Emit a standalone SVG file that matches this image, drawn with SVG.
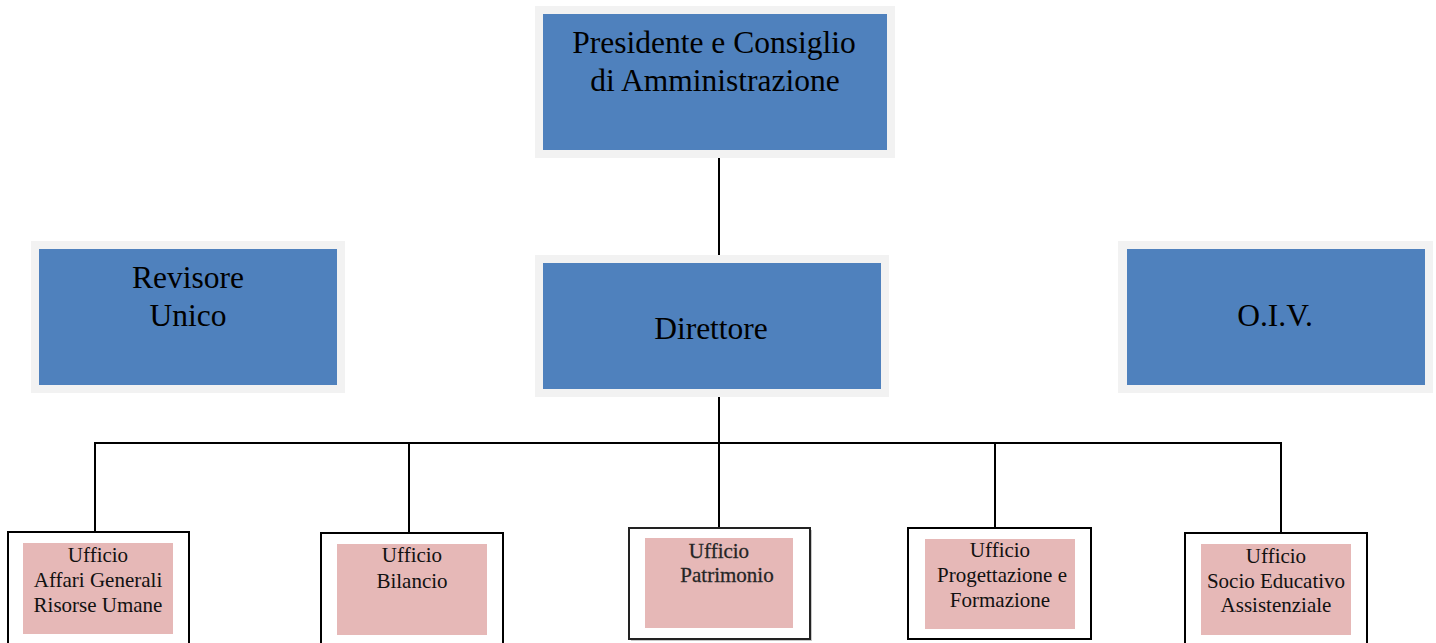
<svg xmlns="http://www.w3.org/2000/svg" width="1436" height="643" viewBox="0 0 1436 643">
<style>
.frame{fill:#f2f2f2}
.blue{fill:#4f81bd}
.pink{fill:#e6b8b7}
.box{fill:#ffffff;stroke:#000;stroke-width:2}
.big{font-family:"Liberation Serif","Times New Roman",serif;font-size:31.5px;fill:#000;text-anchor:middle}
.small{font-family:"Liberation Serif","Times New Roman",serif;font-size:21px;fill:#111;text-anchor:middle}
.conn{stroke:#000;stroke-width:2;fill:none}
</style>
<rect width="1436" height="643" fill="#ffffff"/>
<g id="connectors">
<line class="conn" x1="719" y1="158" x2="719" y2="255"/>
<line class="conn" x1="719" y1="397" x2="719" y2="443"/>
<line class="conn" x1="94" y1="443" x2="1282" y2="443"/>
<line class="conn" x1="95" y1="443" x2="95" y2="532"/>
<line class="conn" x1="409" y1="443" x2="409" y2="533"/>
<line class="conn" x1="719" y1="443" x2="719" y2="528"/>
<line class="conn" x1="995" y1="443" x2="995" y2="528"/>
<line class="conn" x1="1281" y1="443" x2="1281" y2="533"/>
</g>
<g id="presidente">
<rect class="frame" x="535" y="6" width="360" height="152"/>
<rect class="blue" x="543" y="14" width="344" height="136"/>
<text class="big" x="714" y="53">Presidente e Consiglio</text>
<text class="big" x="715" y="91">di Amministrazione</text>
</g>
<g id="revisore">
<rect class="frame" x="31" y="241" width="314" height="152"/>
<rect class="blue" x="39" y="249" width="298" height="136"/>
<text class="big" x="188" y="288">Revisore</text>
<text class="big" x="188" y="326">Unico</text>
</g>
<g id="direttore">
<rect class="frame" x="535" y="255" width="354" height="142"/>
<rect class="blue" x="543" y="263" width="338" height="126"/>
<text class="big" x="711" y="339">Direttore</text>
</g>
<g id="oiv">
<rect class="frame" x="1118" y="241" width="315" height="152"/>
<rect class="blue" x="1127" y="249" width="298" height="136"/>
<text class="big" x="1275" y="326">O.I.V.</text>
</g>
<g id="ufficio-affari">
<rect class="box" x="8" y="532" width="181" height="120"/>
<rect class="pink" x="23" y="543" width="150" height="91"/>
<text class="small" x="98" y="562">Ufficio</text>
<text class="small" x="98" y="587">Affari Generali</text>
<text class="small" x="98" y="612">Risorse Umane</text>
</g>
<g id="ufficio-bilancio">
<rect class="box" x="321" y="533" width="182" height="120"/>
<rect class="pink" x="337" y="544" width="150" height="91"/>
<text class="small" x="412" y="562">Ufficio</text>
<text class="small" x="412" y="588">Bilancio</text>
</g>
<g id="ufficio-patrimonio">
<rect x="631" y="530" width="181" height="111" fill="#c8c8c8"/>
<rect x="629" y="528" width="181" height="111" fill="#ffffff" stroke="#222" stroke-width="2"/>
<rect class="pink" x="645" y="538" width="148" height="90"/>
<text class="small" x="719" y="558" style="fill:#222;stroke:#333;stroke-width:0.3">Ufficio</text>
<text class="small" x="727" y="582" style="fill:#222;stroke:#333;stroke-width:0.3">Patrimonio</text>
</g>
<g id="ufficio-progettazione">
<rect class="box" x="908" y="528" width="183" height="111"/>
<rect class="pink" x="925" y="539" width="150" height="90"/>
<text class="small" x="1000" y="557">Ufficio</text>
<text class="small" x="1002" y="582">Progettazione e</text>
<text class="small" x="1000" y="607">Formazione</text>
</g>
<g id="ufficio-socio">
<rect class="box" x="1185" y="533" width="182" height="120"/>
<rect class="pink" x="1201" y="544" width="150" height="91"/>
<text class="small" x="1276" y="563">Ufficio</text>
<text class="small" x="1276" y="588">Socio Educativo</text>
<text class="small" x="1276" y="612">Assistenziale</text>
</g>
</svg>
